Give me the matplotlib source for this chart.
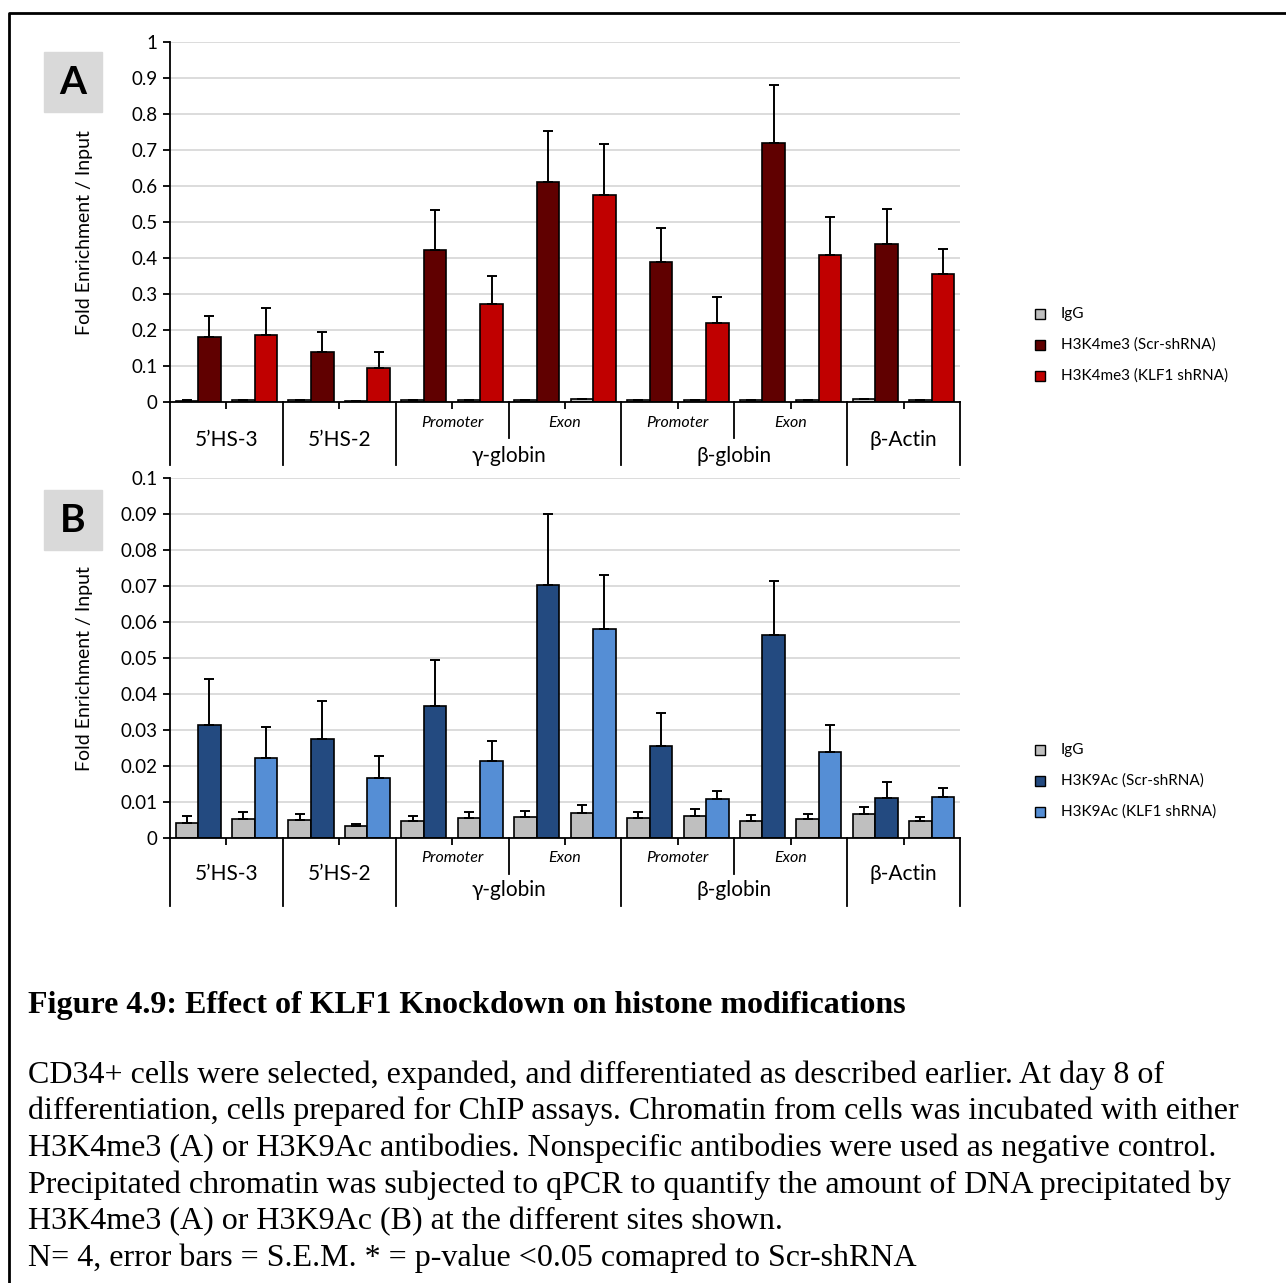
import matplotlib

matplotlib.use("Agg")
import matplotlib.pyplot as plt
import numpy as np
from matplotlib.lines import Line2D
from matplotlib.patches import Rectangle
from matplotlib.transforms import blended_transform_factory

W, H = 1286, 1283
SANS = ["Lato", "DejaVu Sans"]
SERIF = ["Liberation Serif", "DejaVu Serif"]

# ChIP sites along the x axis (one Scr cluster + one KLF1 cluster per site)
sites = ["5\u2019HS-3", "5\u2019HS-2", "Promoter", "Exon", "Promoter", "Exon", "\u03b2-Actin"]
regions = ["5\u2019HS-3", "5\u2019HS-2", "\u03b3-globin", "\u03b2-globin", "\u03b2-Actin"]
region_sites = [[0], [1], [2, 3], [4, 5], [6]]

# Panel A: H3K4me3, fold enrichment / input (mean and S.E.M.)
igg_scr_a = [0.004, 0.005, 0.005, 0.005, 0.005, 0.005, 0.007]
igg_scr_a_sem = [0.001, 0.001, 0.001, 0.001, 0.001, 0.001, 0.001]
scr_a = [0.180, 0.139, 0.422, 0.611, 0.390, 0.719, 0.439]
scr_a_sem = [0.059, 0.056, 0.111, 0.141, 0.093, 0.162, 0.097]
igg_klf_a = [0.005, 0.003, 0.005, 0.008, 0.005, 0.005, 0.005]
igg_klf_a_sem = [0.001, 0.001, 0.001, 0.001, 0.001, 0.001, 0.001]
klf_a = [0.186, 0.094, 0.272, 0.575, 0.220, 0.408, 0.356]
klf_a_sem = [0.076, 0.045, 0.078, 0.142, 0.072, 0.106, 0.069]

# Panel B: H3K9Ac
igg_scr_b = [0.0043, 0.0051, 0.0047, 0.0058, 0.0056, 0.0046, 0.0066]
igg_scr_b_sem = [0.0019, 0.0017, 0.0013, 0.0017, 0.0017, 0.0017, 0.0021]
scr_b = [0.0313, 0.0275, 0.0367, 0.0703, 0.0255, 0.0564, 0.0112]
scr_b_sem = [0.0130, 0.0106, 0.0127, 0.0197, 0.0091, 0.0150, 0.0044]
igg_klf_b = [0.0053, 0.0032, 0.0055, 0.0070, 0.0060, 0.0052, 0.0048]
igg_klf_b_sem = [0.0020, 0.0006, 0.0018, 0.0022, 0.0020, 0.0014, 0.0009]
klf_b = [0.0221, 0.0168, 0.0215, 0.0580, 0.0107, 0.0239, 0.0115]
klf_b_sem = [0.0088, 0.0061, 0.0054, 0.0150, 0.0024, 0.0076, 0.0023]

legend_a = ["IgG", "H3K4me3 (Scr-shRNA)", "H3K4me3 (KLF1 shRNA)"]
legend_b = ["IgG", "H3K9Ac (Scr-shRNA)", "H3K9Ac (KLF1 shRNA)"]

title = "Figure 4.9: Effect of KLF1 Knockdown on histone modifications"
caption = [
    "CD34+ cells were selected, expanded, and differentiated as described earlier. At day 8 of",
    "differentiation, cells prepared for ChIP assays. Chromatin from cells was incubated with either",
    "H3K4me3 (A) or H3K9Ac antibodies. Nonspecific antibodies were used as negative control.",
    "Precipitated chromatin was subjected to qPCR to quantify the amount of DNA precipitated by",
    "H3K4me3 (A) or H3K9Ac (B) at the different sites shown.",
    "N= 4, error bars = S.E.M. * = p-value <0.05 comapred to Scr-shRNA",
]

IGG = "#BFBFBF"
GRID = "#D9D9D9"


def fx(x):
    return x / W


def fy(y):
    return 1 - y / H


def draw_panel(ax, data, colors, ymax, step, label_px):
    igg1, igg1_e, scr, scr_e, igg2, igg2_e, klf, klf_e = [np.asarray(d) for d in data]
    x1 = np.arange(len(sites)) * 2
    x2 = x1 + 1
    bw = 0.4
    for xs, vals, errs, col in [
        (x1 - bw / 2, igg1, igg1_e, IGG),
        (x1 + bw / 2, scr, scr_e, colors[0]),
        (x2 - bw / 2, igg2, igg2_e, IGG),
        (x2 + bw / 2, klf, klf_e, colors[1]),
    ]:
        ax.bar(xs, vals, bw, color=col, edgecolor="black", linewidth=1.2, zorder=2)
        ax.errorbar(xs, vals, yerr=[np.zeros_like(errs), errs], fmt="none",
                    ecolor="black", elinewidth=1.4, capsize=3.5, capthick=1.4, zorder=3)

    n = 2 * len(sites)
    ax.set_xlim(-0.5, n - 0.5)
    ax.set_ylim(0, ymax)
    ticks = np.round(np.arange(0, ymax + step / 2, step), 4)
    ax.set_yticks(ticks)
    ax.set_yticklabels(["%g" % t for t in ticks], family=SANS, fontsize=13.5)
    ax.yaxis.grid(True, color=GRID, linewidth=1.3)
    ax.set_axisbelow(True)
    ax.set_xticks(np.arange(len(sites)) * 2 + 0.5)
    ax.set_xticklabels([])
    ax.tick_params(axis="x", length=5, width=1.3, direction="out")
    ax.tick_params(axis="y", length=5, width=1.3, direction="out", pad=4)
    for s in ["top", "right"]:
        ax.spines[s].set_visible(False)
    for s in ["left", "bottom"]:
        ax.spines[s].set_linewidth(1.3)
    ax.set_ylabel("Fold Enrichment / Input", family=SANS, fontsize=14)
    ax.yaxis.set_label_coords(-77 / ax.bbox.width, 0.472)

    # category box below the axis
    full, short, y_sub, y_site, y_gene = label_px
    tr = blended_transform_factory(ax.transData, ax.transAxes)
    hpx = ax.bbox.height
    for i, group in enumerate(region_sites):
        left = 2 * group[0] - 0.5
        ax.add_line(Line2D([left, left], [0, -full / hpx], transform=tr, color="black",
                           lw=1.3, clip_on=False))
        if len(group) == 1:
            ax.text(2 * group[0] + 0.5, -y_site / hpx, regions[i], transform=tr,
                    ha="center", va="center", family=SANS, fontsize=15)
        else:
            mid = 2 * group[1] - 0.5
            ax.add_line(Line2D([mid, mid], [0, -short / hpx], transform=tr, color="black",
                               lw=1.3, clip_on=False))
            for s in group:
                ax.text(2 * s + 0.5, -y_sub / hpx, sites[s], transform=tr, ha="center",
                        va="center", family=SANS, fontsize=11.5, style="italic")
            ax.text(mid, -y_gene / hpx, regions[i], transform=tr, ha="center",
                    va="center", family=SANS, fontsize=15)
    ax.add_line(Line2D([n - 0.5, n - 0.5], [0, -full / hpx], transform=tr, color="black",
                       lw=1.3, clip_on=False))


fig = plt.figure(figsize=(W / 100, H / 100), dpi=100, facecolor="white")

ax_a = fig.add_axes([fx(170), fy(402), fx(790), 360 / H])
draw_panel(ax_a, [igg_scr_a, igg_scr_a_sem, scr_a, scr_a_sem,
                  igg_klf_a, igg_klf_a_sem, klf_a, klf_a_sem],
           ["#600000", "#C00000"], 1.0, 0.1, (63, 36, 21, 38, 54))

ax_b = fig.add_axes([fx(170), fy(838), fx(790), 360 / H])
draw_panel(ax_b, [igg_scr_b, igg_scr_b_sem, scr_b, scr_b_sem,
                  igg_klf_b, igg_klf_b_sem, klf_b, klf_b_sem],
           ["#234A80", "#558ED5"], 0.1, 0.01, (68, 36, 20, 36, 52))

# panel letters
for letter, top in [("A", 52), ("B", 490)]:
    fig.patches.append(Rectangle((fx(44), fy(top + 60)), fx(58), 60 / H,
                                 transform=fig.transFigure, color="#D9D9D9", zorder=0))
    fig.text(fx(73), fy(top + 31), letter, ha="center", va="center", family=SANS,
             fontsize=28, weight="bold")

# legends
for labels, colors, y0 in [(legend_a, [IGG, "#600000", "#C00000"], 314),
                           (legend_b, [IGG, "#234A80", "#558ED5"], 750)]:
    for k, (lab, col) in enumerate(zip(labels, colors)):
        yc = y0 + 31 * k
        fig.patches.append(Rectangle((fx(1035), fy(yc + 5)), fx(10), 10 / H,
                                     transform=fig.transFigure, facecolor=col,
                                     edgecolor="black", linewidth=1.0))
        fig.text(fx(1061), fy(yc), lab, ha="left", va="center", family=SANS, fontsize=11)

# caption
fig.text(fx(28), fy(1013.5), title, ha="left", va="baseline", family=SERIF,
         fontsize=23, weight="bold")
for k, line in enumerate(caption):
    fig.text(fx(28), fy(1082.5 + 36.7 * k), line, ha="left", va="baseline",
             family=SERIF, fontsize=23)

# frame around the figure block
fig.add_artist(Line2D([fx(8.5), fx(8.5), fx(W + 5)], [fy(H + 5), fy(12.5), fy(12.5)],
                      transform=fig.transFigure, color="black", lw=2))

fig.savefig("out.png", dpi=100, facecolor="white")
